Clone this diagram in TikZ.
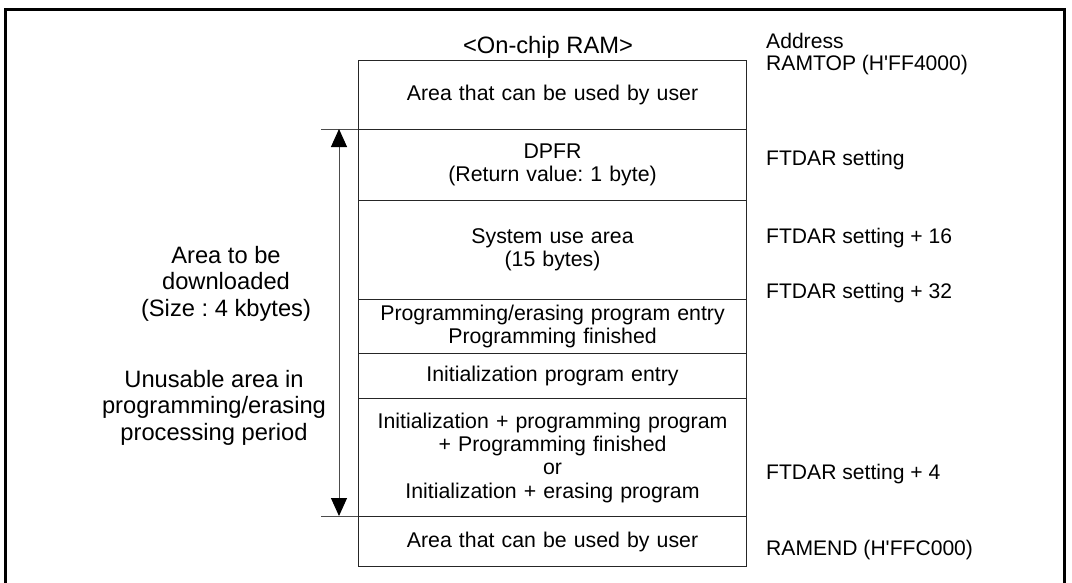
\documentclass[tikz,border=0pt]{standalone}
\usepackage{fontspec}
\setmainfont{Liberation Sans}
\usetikzlibrary{arrows.meta}
\frenchspacing
\begin{document}
\begin{tikzpicture}[x=1pt,y=-1pt,
  row/.style={draw=black!85,line width=1.1pt,rectangle,anchor=north west,inner sep=0pt,
    minimum width=388pt,text width=386pt,align=center,
    font=\fontsize{21.3}{23.3}\selectfont},
  addr/.style={anchor=base west,inner sep=0pt,font=\fontsize{21.1}{23.3}\selectfont},
  bigtext/.style={anchor=base,inner sep=0pt,font=\fontsize{23.7}{26.5}\selectfont},
  tick/.style={draw=black!70,line width=1pt},
  dim/.style={draw=black!70,line width=1pt,{Triangle[width=16pt,length=18pt,black]}-{Triangle[width=16pt,length=18pt,black]}}]
\useasboundingbox (0,0) rectangle (1072,582);
% outer frame
\draw[line width=3pt] (5,600) -- (5,9) -- (1064,9) -- (1064,600);
% memory rows
\node[row,minimum height=69pt] (r1) at (358,60) {Area that can be used by user};
\node[row,minimum height=71pt] (r2) at (358,129) {DPFR\\(Return value: 1 byte)};
\node[row,minimum height=99pt] (r3) at (358,200) {System use area\\(15 bytes)};
\node[row,minimum height=54pt] (r4) at (358,299) {Programming/erasing program entry\\Programming finished};
\node[row,minimum height=45pt] (r5) at (358,353) {Initialization program entry};
\node[row,minimum height=118pt] (r6) at (358,398) {Initialization + programming program\\+ Programming finished\\or\\Initialization + erasing program};
\node[row,minimum height=50pt] (r7) at (358,516) {Area that can be used by user};
% title
\node[bigtext] (title) at (548,53) {<On-chip RAM>};
% addresses
\node[addr] (a0) at (766,48) {Address};
\node[addr] (a1) at (766,70) {RAMTOP (H\textquotesingle FF4000)};
\node[addr] (a2) at (766,165) {FTDAR setting};
\node[addr] (a3) at (766,243) {FTDAR setting + 16};
\node[addr] (a4) at (766,298) {FTDAR setting + 32};
\node[addr] (a5) at (766,479) {FTDAR setting + 4};
\node[addr] (a6) at (766,555) {RAMEND (H\textquotesingle FFC000)};
% dimension arrow
\coordinate (t1) at (321,129);
\coordinate (t2) at (321,516);
\draw[tick] (t1) -- (r2.north west);
\draw[tick] (t2) -- (r7.north west);
\coordinate (p1) at (339,129);
\coordinate (p2) at (339,516);
\draw[dim] (p1) -- (p2);
% left labels
\node[bigtext] (l1) at (226,263) {Area to be};
\node[bigtext] (l2) at (226,289.5) {downloaded};
\node[bigtext] (l3) at (226,316) {(Size : 4 kbytes)};
\node[bigtext] (l4) at (214,387) {Unusable area in};
\node[bigtext] (l5) at (214,413.5) {programming/erasing};
\node[bigtext] (l6) at (214,440) {processing period};
\end{tikzpicture}
\end{document}
